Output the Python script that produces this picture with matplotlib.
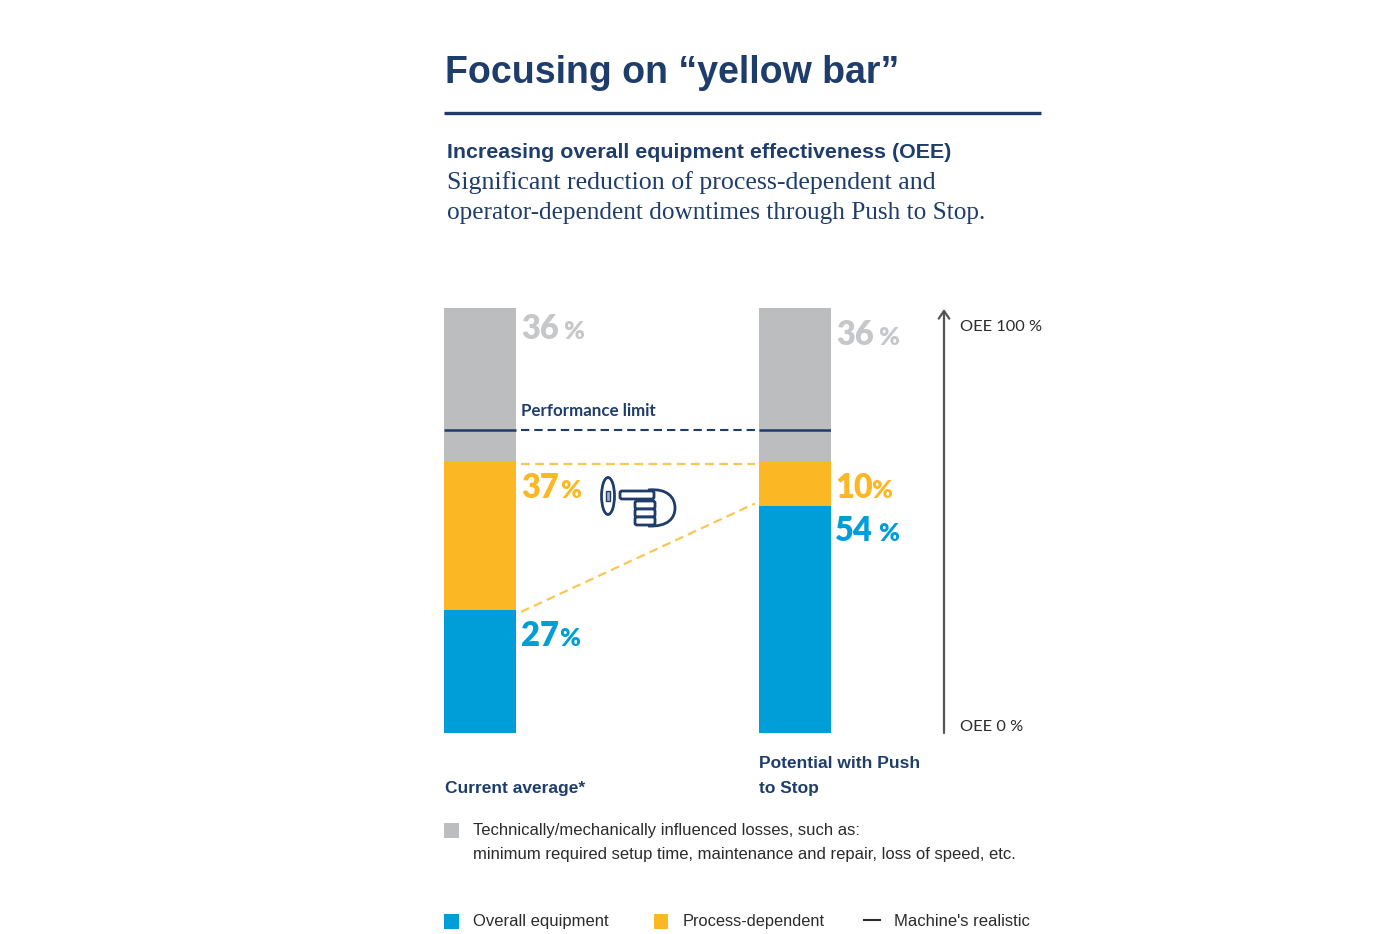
import matplotlib
matplotlib.use("Agg")
import matplotlib.pyplot as plt
from matplotlib.patches import Ellipse, FancyBboxPatch, PathPatch, Rectangle
from matplotlib.path import Path

# bar segments (share of bar height, bottom to top)
categories = ["Current average*", "Potential with Push\nto Stop"]
overall_equipment = [29, 53.5]
process_dependent = [35, 10.5]
technical_losses = [36, 36]

# printed labels, these differ a bit from the drawn heights
overall_labels = ["27", "54"]
process_labels = ["37", "10"]
technical_labels = ["36", "36"]

performance_limit = 71.3
yellow_top = 63.2
yellow_diag = [28.5, 54]

NAVY = "#1f3d6b"
GREY = "#bcbdbf"
LABEL_GREY = "#c6c7c9"
YELLOW = "#fbb824"
DASH_YELLOW = "#fac757"
BLUE = "#009ed8"
DARK = "#2b2b2b"
SANS = "Liberation Sans"

W, H = 1400, 934
fig = plt.figure(figsize=(W / 100, H / 100), dpi=100, facecolor="white")

# overlay in pixel coordinates for the text and the decoration
page = fig.add_axes([0, 0, 1, 1])
page.set_xlim(0, W)
page.set_ylim(H, 0)
page.axis("off")

# bar axes, 0-100 % between y=733 and y=308
ax = fig.add_axes([444 / W, (H - 733) / H, (831 - 444) / W, (733 - 308) / H])
ax.patch.set_alpha(0)
bar_w = 72 / 315
ax.set_xlim(-bar_w / 2, 1 + bar_w / 2)
ax.set_ylim(0, 100)
ax.axis("off")

x = [0, 1]
bottom2 = [a + b for a, b in zip(overall_equipment, process_dependent)]
ax.bar(x, overall_equipment, width=bar_w, color=BLUE)
ax.bar(x, process_dependent, width=bar_w, bottom=overall_equipment, color=YELLOW)
ax.bar(x, technical_losses, width=bar_w, bottom=bottom2, color=GREY)

# performance limit: solid over the bars, dashed between them
for c in x:
    ax.plot([c - bar_w / 2, c + bar_w / 2], [performance_limit] * 2, color=NAVY, lw=1.8, solid_capstyle="butt")
gap_l, gap_r = bar_w / 2 + 0.016, 1 - bar_w / 2 - 0.013
dash = (4, 2.37)
ax.plot([gap_l, gap_r], [performance_limit] * 2, color=NAVY, lw=1.5, dashes=dash)
ax.plot([gap_l, gap_r], [yellow_top] * 2, color=DASH_YELLOW, lw=1.6, dashes=dash)
ax.plot([gap_l, gap_r], yellow_diag, color=DASH_YELLOW, lw=1.6, dashes=dash)

# heading block
page.text(445, 73, "Focusing on “yellow bar”", family=SANS, weight="bold", fontsize=27, color=NAVY, va="center")
page.plot([444, 1041], [113, 113], color=NAVY, lw=2.4, solid_capstyle="butt")
page.text(447, 152, "Increasing overall equipment effectiveness (OEE)", family=SANS, weight="bold", fontsize=15.4, color=NAVY, va="center")
page.text(447, 183, "Significant reduction of process-dependent and", family="Liberation Serif", fontsize=18.6, color=NAVY, va="center")
page.text(447, 213, "operator-dependent downtimes through Push to Stop.", family="Liberation Serif", fontsize=18.2, color=NAVY, va="center")


def pct_label(px, py, num, color, pct_x):
    page.text(px, py, num, family="Lato", weight="heavy", fontsize=23.5, color=color, va="baseline")
    page.text(pct_x, py, "%", family="Lato", weight="heavy", fontsize=18, color=color, va="baseline")


pct_label(521, 339, technical_labels[0], LABEL_GREY, 563)
pct_label(836, 345, technical_labels[1], LABEL_GREY, 878)
pct_label(521, 498, process_labels[0], YELLOW, 560)
pct_label(835, 498, process_labels[1], YELLOW, 871)
pct_label(521, 646, overall_labels[0], BLUE, 559)
pct_label(835, 541, overall_labels[1], BLUE, 878)

page.text(521, 411, "Performance limit", family="Lato", weight="bold", fontsize=12.2, color=NAVY, va="center")

# OEE arrow on the right
page.annotate("", xy=(944, 309), xytext=(944, 733),
              arrowprops=dict(arrowstyle="->,head_width=0.38,head_length=0.55", color="#555555", lw=1.6, shrinkA=0, shrinkB=0))
page.text(960, 327, "OEE 100 %", family="Lato", fontsize=11.8, color=DARK, va="center")
page.text(960, 727, "OEE 0 %", family="Lato", fontsize=11.8, color=DARK, va="center")

# category names under the bars
page.text(445, 788, categories[0], family=SANS, weight="bold", fontsize=12.5, color=NAVY, va="center")
cat2 = categories[1].split("\n")
page.text(759, 764, cat2[0], family=SANS, weight="bold", fontsize=12.5, color=NAVY, va="center")
page.text(759, 788, cat2[1], family=SANS, weight="bold", fontsize=12.5, color=NAVY, va="center")

# legend
page.add_patch(Rectangle((444, 823), 15, 15, color=GREY, lw=0))
page.text(473, 831, "Technically/mechanically influenced losses, such as:", family=SANS, fontsize=12, color=DARK, va="center")
page.text(473, 855, "minimum required setup time, maintenance and repair, loss of speed, etc.", family=SANS, fontsize=12, color=DARK, va="center")
page.add_patch(Rectangle((444, 914), 15, 15, color=BLUE, lw=0))
page.text(473, 926, "Overall equipment", family=SANS, fontsize=12, color=DARK, va="baseline")
page.add_patch(Rectangle((654, 914), 14, 15, color=YELLOW, lw=0))
page.text(683, 926, "Process-dependent", family=SANS, fontsize=11.8, color=DARK, va="baseline")
page.plot([864, 880], [920, 920], color=DARK, lw=1.5)
page.text(894, 926, "Machine's realistic", family=SANS, fontsize=12, color=DARK, va="baseline")

# pointing hand icon
icon = dict(facecolor="white", edgecolor=NAVY, lw=2)
page.add_patch(Ellipse((608, 496), 13, 37, **icon))
page.add_patch(Rectangle((606, 491), 4, 10, facecolor="#aab4c6", edgecolor=NAVY, lw=1))
back = Path([(648, 490), (668, 488), (675, 498), (675, 508), (675, 518), (668, 527), (648, 526)],
            [Path.MOVETO, Path.CURVE4, Path.CURVE4, Path.CURVE4, Path.CURVE4, Path.CURVE4, Path.CURVE4])
page.add_patch(PathPatch(back, facecolor="none", edgecolor=NAVY, lw=2, zorder=3))
for yy in [503, 511, 519]:
    page.add_patch(FancyBboxPatch((637, yy), 16, 4, boxstyle="round,pad=2", zorder=4, **icon))
page.add_patch(FancyBboxPatch((622, 493), 30, 4, boxstyle="round,pad=2", zorder=5, **icon))

fig.savefig("out.png", dpi=100)
